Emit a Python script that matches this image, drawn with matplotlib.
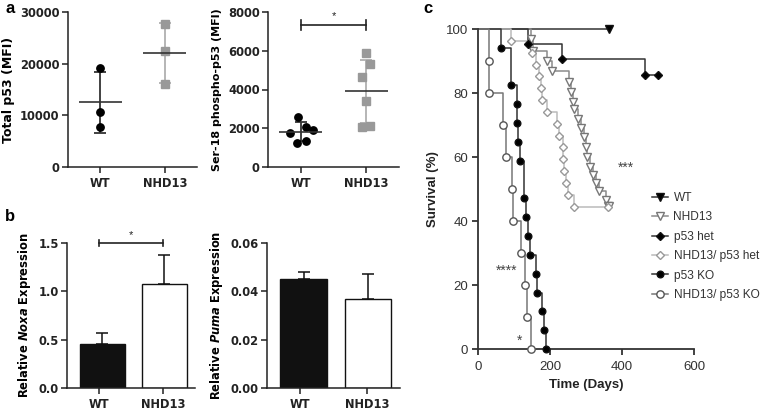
import numpy as np
import matplotlib
matplotlib.use("Agg")
import matplotlib.pyplot as plt
from matplotlib.lines import Line2D

plt.rcParams['font.family'] = ['Liberation Sans', 'DejaVu Sans']
plt.rcParams['mathtext.fontset'] = 'custom'
plt.rcParams['mathtext.it'] = 'DejaVu Sans:italic:bold'
plt.rcParams['mathtext.rm'] = 'DejaVu Sans:bold'
plt.rcParams['mathtext.bf'] = 'DejaVu Sans:bold'

# ---------------- data ----------------
groups = ["WT", "NHD13"]
total_p53_wt = [19100, 10700, 7800]
total_p53_nhd13 = [27700, 22500, 16000]
phospho_wt = [2565, 2080, 1770, 1910, 1255, 1357]
phospho_nhd13 = [5900, 5316, 4630, 3420, 2050, 2115]
noxa_mean = [0.46, 1.08]
noxa_err = [0.11, 0.30]
puma_mean = [0.045, 0.037]
puma_err = [0.003, 0.010]

surv_labels = ["WT", "NHD13", "p53 het", "NHD13/ p53 het", "p53 KO", "NHD13/ p53 KO"]
wt_days, wt_surv, wt_end = [], [], 365
nhd13_days = [148, 153, 192, 206, 253, 258, 263, 268, 279, 286, 295, 299, 304, 311, 319, 328, 336, 356, 360]
nhd13_surv = [96.8, 93.2, 89.9, 86.8, 83.4, 80.2, 77.3, 75.1, 72.0, 69.2, 66.3, 63.2, 60.1, 57.0, 54.5, 52.0, 49.3, 46.5, 44.6]
nhd13_end = 365
p53het_days = [140, 232, 465]
p53het_surv = [95.2, 90.5, 85.7]
p53het_end = 501
nhd13het_days = [93, 151, 160, 169, 174, 179, 192, 220, 226, 235, 237, 239, 244, 251, 267]
nhd13het_surv = [96.3, 92.6, 88.9, 85.2, 81.5, 77.8, 74.1, 70.4, 66.7, 63.0, 59.3, 55.6, 51.9, 48.1, 44.4]
nhd13het_end = 362
p53ko_days = [65, 93, 107, 108, 112, 116, 127, 133, 139, 144, 160, 165, 178, 184, 190]
p53ko_surv = [94.1, 82.4, 76.5, 70.6, 64.7, 58.8, 47.1, 41.2, 35.3, 29.4, 23.5, 17.6, 11.8, 5.9, 0.0]
p53ko_end = None
nhd13ko_days = [30, 31, 70, 77, 95, 97, 120, 130, 136, 146]
nhd13ko_surv = [90, 80, 70, 60, 50, 40, 30, 20, 10, 0]
nhd13ko_end = None

# ---------------- figure ----------------
W, H = 763, 413
fig = plt.figure(figsize=(W / 100, H / 100), dpi=100)
AB_FONT = ['DejaVu Sans']


def px_axes(x0, y0, x1, y1):
    return fig.add_axes([x0 / W, 1 - y1 / H, (x1 - x0) / W, (y1 - y0) / H])


def style_ax(ax, color='#222222', lw=1.1):
    for s in ['top', 'right']:
        ax.spines[s].set_visible(False)
    for s in ['left', 'bottom']:
        ax.spines[s].set_color(color)
        ax.spines[s].set_linewidth(lw)
    ax.tick_params(direction='out', length=4, width=lw, color=color, pad=2)
    ax.tick_params(axis='x', pad=3.5)


def bold_ticks(ax, size=8.3):
    for lab in ax.get_xticklabels() + ax.get_yticklabels():
        lab.set_fontweight('bold')
        lab.set_fontsize(size)
        lab.set_family(AB_FONT)
        lab.set_color('#222222')


def dot_panel(ax, wt, nh, wt_jit, nh_jit, ylim, yticks, ylabel, lsize):
    style_ax(ax)
    ax.set_xlim(-0.5, 1.5)
    ax.set_ylim(*ylim)
    ax.set_yticks(yticks)
    ax.set_xticks([0, 1])
    ax.set_xticklabels(groups)
    for i, (vals, jit, col, ecol, mk) in enumerate([
            (wt, wt_jit, 'black', '#333333', 'o'),
            (nh, nh_jit, '#999999', '#b0b0b0', 's')]):
        m = np.mean(vals)
        sd = np.std(vals, ddof=1)
        ax.errorbar([i], [m], yerr=[sd], fmt='none', ecolor=ecol, elinewidth=1.3,
                    capsize=4.5, capthick=1.3, zorder=2)
        ax.plot(i + np.array(jit), vals, linestyle='none', marker=mk, color=col,
                markersize=5.3, zorder=3, clip_on=False)
        ax.hlines(m, i - 0.33, i + 0.33, color='#333333', linewidth=1.2, zorder=4)
    ax.set_ylabel(ylabel, fontsize=lsize, fontweight='bold', family=AB_FONT, labelpad=4)
    bold_ticks(ax)


# panel a left
ax1 = px_axes(68, 12, 197, 167)
dot_panel(ax1, total_p53_wt, total_p53_nhd13, [0, 0, 0], [0, 0, 0],
          (0, 30000), [0, 10000, 20000, 30000], "Total p53 (MFI)", 9)

# panel a right
ax2 = px_axes(268, 12, 399, 167)
dot_panel(ax2, phospho_wt, phospho_nhd13,
          [-0.04, 0.075, -0.16, 0.19, -0.05, 0.075],
          [0.0, 0.055, -0.06, 0.0, -0.06, 0.055],
          (0, 8000), [0, 2000, 4000, 6000, 8000], "Ser-18 phospho-p53 (MFI)", 8)
ax2.plot([0, 1], [7330, 7330], color='#222222', lw=1.2)
for xx in [0, 1]:
    ax2.plot([xx, xx], [7050, 7610], color='#222222', lw=1.2)
ax2.text(0.5, 7550, "*", ha='center', va='bottom', fontsize=8, color='#222222')


def bar_panel(ax, means, errs, ylim, yticks, ylabel, fmt):
    style_ax(ax)
    ax.set_xlim(-0.5, 1.5)
    ax.set_ylim(*ylim)
    ax.set_yticks(yticks)
    ax.set_yticklabels([fmt.format(t) for t in yticks])
    ax.set_xticks([0, 1])
    ax.set_xticklabels(groups)
    ax.bar([0.05, 1.02], means, width=0.7, color=['#111111', 'white'],
           edgecolor='#111111', linewidth=1.0, zorder=2)
    ax.errorbar([0.05, 1.02], means, yerr=[[0, 0], errs], fmt='none', ecolor='#111111',
                elinewidth=1.1, capsize=4.5, capthick=1.1, zorder=1)
    ax.set_ylabel(ylabel, fontsize=8.3, fontweight='bold', family=AB_FONT, labelpad=4)
    bold_ticks(ax)


ax3 = px_axes(67, 243, 195, 388)
bar_panel(ax3, noxa_mean, noxa_err, (0, 1.5), [0.0, 0.5, 1.0, 1.5],
          r"Relative $\mathit{Noxa}$ Expression", "{:.1f}")
ax3.plot([0, 1], [1.5, 1.5], color='#222222', lw=1.2, clip_on=False)
for xx in [0, 1]:
    ax3.plot([xx, xx], [1.47, 1.53], color='#222222', lw=1.2, clip_on=False)
ax3.text(0.5, 1.53, "*", ha='center', va='bottom', fontsize=8, color='#222222')

ax4 = px_axes(267, 243, 400, 388)
bar_panel(ax4, puma_mean, puma_err, (0, 0.06), [0.00, 0.02, 0.04, 0.06],
          r"Relative $\mathit{Puma}$ Expression", "{:.2f}")

# panel c
ax5 = px_axes(478, 29, 694, 349)
style_ax(ax5, color='#333333', lw=1.3)
ax5.set_xlim(0, 600)
ax5.set_ylim(0, 100)
ax5.set_xticks([0, 200, 400, 600])
ax5.set_yticks([0, 20, 40, 60, 80, 100])
ax5.tick_params(labelsize=9.5, labelcolor='#333333', pad=3)
ax5.tick_params(axis='x', pad=5)

curves = [
    (wt_days, wt_surv, wt_end, '#333333', 'v', 'black', '#111111', 5.5),
    (nhd13_days, nhd13_surv, nhd13_end, '#8a8a8a', 'v', 'white', '#777777', 5.8),
    (p53het_days, p53het_surv, p53het_end, '#333333', 'D', 'black', '#111111', 4.3),
    (nhd13het_days, nhd13het_surv, nhd13het_end, '#bbbbbb', 'D', 'white', '#999999', 4.3),
    (p53ko_days, p53ko_surv, p53ko_end, '#333333', 'o', 'black', '#111111', 4.8),
    (nhd13ko_days, nhd13ko_surv, nhd13ko_end, '#777777', 'o', 'white', '#555555', 5.3),
]
handles = []
for (days, surv, end, lc, mk, mfc, mec, ms), lab in zip(curves, surv_labels):
    xs = [0] + list(days)
    ys = [100] + list(surv)
    if end is not None:
        xs.append(end)
        ys.append(ys[-1])
    ax5.step(xs, ys, where='post', color=lc, lw=1.1, zorder=2, clip_on=False)
    mx = list(days) + ([end] if end is not None else [])
    my = list(surv) + ([ys[-1]] if end is not None else [])
    ax5.plot(mx, my, linestyle='none', marker=mk, markersize=ms, markerfacecolor=mfc,
             markeredgecolor=mec, markeredgewidth=1.0, zorder=3, clip_on=False)
    handles.append(Line2D([], [], color=lc, lw=1.1, marker=mk, markersize=ms,
                          markerfacecolor=mfc, markeredgecolor=mec, markeredgewidth=1.0))

ax5.text(411, 56.6, "***", ha='center', va='center', fontsize=10, color='#444444')
ax5.text(80, 24.4, "****", ha='center', va='center', fontsize=10, color='#444444')
ax5.text(114, 2.5, "*", ha='center', va='center', fontsize=10, color='#444444')
ax5.set_ylabel("Survival (%)", fontsize=9.5, fontweight='bold', labelpad=5, color='#222222')
ax5.set_xlabel("Time (Days)", fontsize=9.5, fontweight='bold', labelpad=4, color='#222222')

leg = fig.legend(handles, surv_labels, loc='upper left',
                 bbox_to_anchor=(652 / W, 1 - 192 / H), frameon=False,
                 fontsize=8.6, handlelength=1.3, handletextpad=0.5,
                 labelspacing=0.62, borderpad=0, borderaxespad=0)
for t in leg.get_texts():
    t.set_color('#333333')

# panel letters
fig.text(5 / W, 1 - 1 / H, "a", fontsize=12, fontweight='bold', va='top', ha='left')
fig.text(5 / W, 1 - 209 / H, "b", fontsize=12, fontweight='bold', va='top', ha='left')
fig.text(423 / W, 1 - 1 / H, "c", fontsize=12, fontweight='bold', va='top', ha='left')

fig.savefig("out.png", dpi=100)
